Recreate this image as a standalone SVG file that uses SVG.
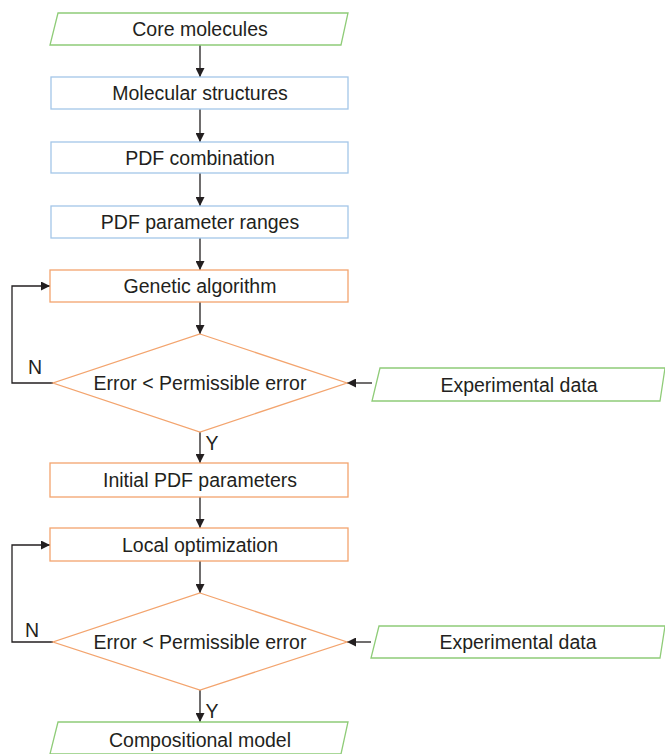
<svg xmlns="http://www.w3.org/2000/svg" width="665" height="754" viewBox="0 0 665 754">
<defs>
<marker id="ah" viewBox="0 0 10 10" refX="10" refY="5" markerWidth="9" markerHeight="9" markerUnits="userSpaceOnUse" orient="auto">
<path d="M0,0 L10,5 L0,10 z" fill="#231f20"/>
</marker>
<style>
.g{fill:#fff;stroke:#8fcc78;stroke-width:1.3}
.b{fill:#fff;stroke:#a4c6e8;stroke-width:1.3}
.o{fill:#fff;stroke:#f3a46e;stroke-width:1.3}
text{font-family:"Liberation Sans",Arial,sans-serif;font-size:19.5px;fill:#231f20;text-anchor:middle;dominant-baseline:central}
.c{fill:none;stroke:#231f20;stroke-width:1.3;marker-end:url(#ah)}
</style>
</defs>
<rect width="665" height="754" fill="#fff"/>
<g id="connectors">
<path class="c" d="M200,45 V77"/>
<path class="c" d="M200,109 V142"/>
<path class="c" d="M200,173 V206"/>
<path class="c" d="M200,238 V270"/>
<path class="c" d="M200,302 V334"/>
<path class="c" d="M53,383 H12 V286 H50"/>
<path class="c" d="M372,383 H347"/>
<path class="c" d="M200,432 V463"/>
<path class="c" d="M200,497 V528"/>
<path class="c" d="M200,561 V593"/>
<path class="c" d="M53,642 H12 V545 H50"/>
<path class="c" d="M371,642 H347"/>
<path class="c" d="M200,690 V722"/>
<text x="35" y="367">N</text>
<text x="212" y="443">Y</text>
<text x="32" y="630">N</text>
<text x="212" y="711">Y</text>
</g>
<g id="core"><polygon class="g" points="58,13 348,13 341,45 50,45"/><text x="200" y="29">Core molecules</text></g>
<g id="molstruct"><rect class="b" x="51" y="77" width="297" height="32"/><text x="200" y="93">Molecular structures</text></g>
<g id="pdfcomb"><rect class="b" x="51" y="142" width="297" height="31"/><text x="200" y="157.5">PDF combination</text></g>
<g id="pdfranges"><rect class="b" x="51" y="206" width="297" height="32"/><text x="200" y="222">PDF parameter ranges</text></g>
<g id="genetic"><rect class="o" x="50" y="270" width="298" height="32"/><text x="200" y="286">Genetic algorithm</text></g>
<g id="check1"><polygon class="o" points="200,334 347,383 200,432 53,383"/><text x="200" y="383">Error &lt; Permissible error</text></g>
<g id="exp1"><polygon class="g" points="380,368 665,368 660,401 372,401"/><text x="519" y="384.5">Experimental data</text></g>
<g id="initial"><rect class="o" x="50" y="463" width="298" height="34"/><text x="200" y="480">Initial PDF parameters</text></g>
<g id="local"><rect class="o" x="50" y="528" width="298" height="33"/><text x="200" y="544.5">Local optimization</text></g>
<g id="check2"><polygon class="o" points="200,593 347,642 200,690 53,642"/><text x="200" y="642">Error &lt; Permissible error</text></g>
<g id="exp2"><polygon class="g" points="379,626 665,626 660,658 371,658"/><text x="518" y="642">Experimental data</text></g>
<g id="comp"><polygon class="g" points="58,722 348,722 341,754 50,754"/><text x="200" y="740">Compositional model</text></g>
</svg>
